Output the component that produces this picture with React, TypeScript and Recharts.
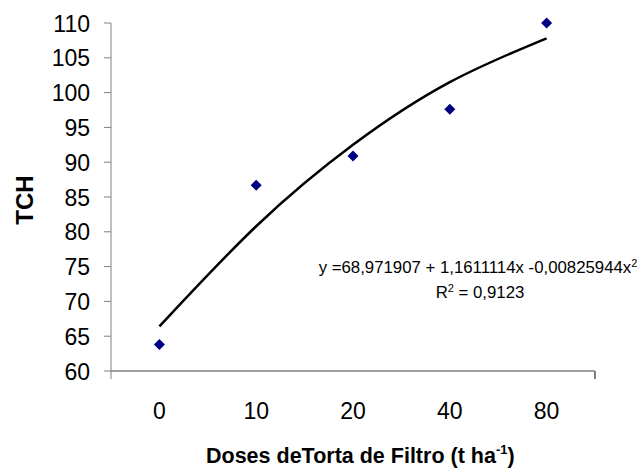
import React from "react"
import { ComposedChart, Line, Scatter, XAxis, YAxis, ReferenceLine } from "recharts"

const doses = ["0", "10", "20", "40", "80"]
const tch = [63.8, 86.7, 90.9, 97.6, 110.0]
const fitted = [66.4, 80.8, 92.5, 101.5, 107.8]
const yTicks = [60, 65, 70, 75, 80, 85, 90, 95, 100, 105, 110]

const data = doses.map((d, i) => ({ idx: i, dose: d, tch: tch[i], fit: fitted[i] }))

const font = "'Liberation Sans', Arial, sans-serif"

const Diamond = (props: any) => {
    const { cx, cy } = props
    const r = 5.5
    return <polygon points={`${cx},${cy - r} ${cx + r},${cy} ${cx},${cy + r} ${cx - r},${cy}`} fill="#000080" />
}

const XTick = (props: any) => {
    const { x, y, payload } = props
    return (
        <text x={x} y={y + 16} textAnchor="middle" fontFamily={font} fontSize={23} fill="#000">
            {doses[payload.value]}
        </text>
    )
}

const YTick = (props: any) => {
    const { x, y, payload } = props
    return (
        <text x={x} y={y + 8.5} textAnchor="end" fontFamily={font} fontSize={23} fill="#000">
            {payload.value}
        </text>
    )
}

export default function App() {
    return (
        <div style={{ position: "absolute", left: 0, top: 0, width: 639, height: 468, background: "#fff", fontFamily: font }}>
            <ComposedChart width={639} height={468} data={data} margin={{ top: 23, right: 44, bottom: 0, left: 0 }}>
                <XAxis
                    dataKey="idx"
                    type="number"
                    domain={[-0.5, 4.5]}
                    ticks={[0, 1, 2, 3, 4]}
                    height={97}
                    tickLine={false}
                    tickSize={8}
                    tickMargin={24}
                    axisLine={{ stroke: "#808080", strokeWidth: 1.5 }}
                    tick={<XTick />}
                    label={{
                        content: () => (
                            <text x={206} y={463} fontFamily={font} fontWeight="bold" fontSize={21.5} fill="#000">
                                Doses deTorta de Filtro (t ha
                                <tspan dy={-9} fontSize={13}>-1</tspan>
                                <tspan dy={9}>)</tspan>
                            </text>
                        ),
                    }}
                />
                <YAxis
                    type="number"
                    domain={[60, 110]}
                    ticks={yTicks}
                    width={111}
                    tickSize={7}
                    tickMargin={14}
                    axisLine={{ stroke: "#808080" }}
                    tickLine={{ stroke: "#808080" }}
                    tick={<YTick />}
                    label={{
                        content: () => (
                            <text x={33} y={200} transform="rotate(-90 33 200)" textAnchor="middle" fontFamily={font} fontWeight="bold" fontSize={24} fill="#000">
                                TCH
                            </text>
                        ),
                    }}
                />
                <ReferenceLine segment={[{ x: -0.5, y: 60 }, { x: -0.5, y: 58.85 }]} stroke="#808080" ifOverflow="visible" />
                <ReferenceLine segment={[{ x: 4.5, y: 60 }, { x: 4.5, y: 58.85 }]} stroke="#000" ifOverflow="visible" />
                <Line type="natural" dataKey="fit" stroke="#000" strokeWidth={2.5} dot={false} activeDot={false} isAnimationActive={false} />
                <Scatter dataKey="tch" shape={<Diamond />} isAnimationActive={false} />
                <text x={478} y={273} textAnchor="middle" fontFamily={font} fontSize={16.8} fill="#000">
                    y =68,971907 + 1,1611114x -0,00825944x
                    <tspan dy={-6} fontSize={11}>2</tspan>
                </text>
                <text x={480} y={298} textAnchor="middle" fontFamily={font} fontSize={16.8} fill="#000">
                    R<tspan dy={-6} fontSize={11}>2</tspan>
                    <tspan dy={6}> = 0,9123</tspan>
                </text>
            </ComposedChart>
        </div>
    )
}
